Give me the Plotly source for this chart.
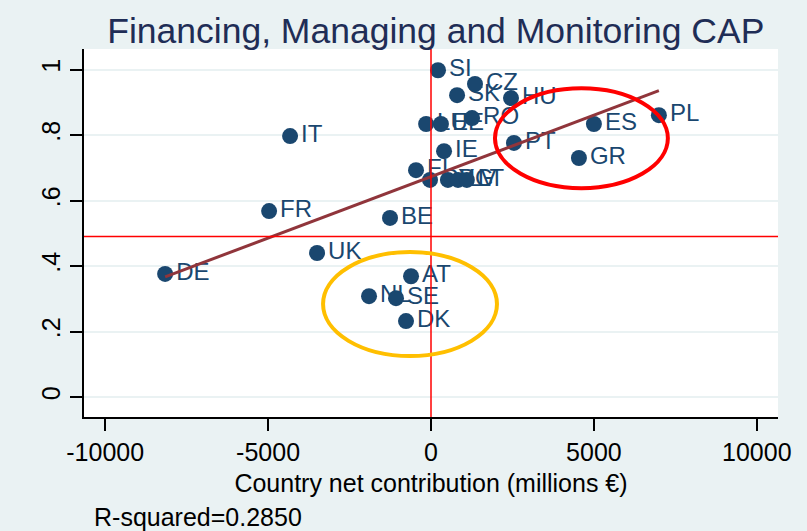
import numpy as np
import plotly.graph_objects as go

# country, net contribution (millions EUR), score
countries = ["SI", "CZ", "SK", "HU", "LU", "EE", "RO", "IE", "FI",
             "CY", "BG", "LV", "LT", "PL", "ES", "PT", "GR", "IT",
             "FR", "BE", "UK", "DE", "AT", "NL", "SE", "DK"]
net_contribution = [215, 1350, 800, 2455, -150, 305, 1260, 400, -460,
                    -30, 520, 830, 1100, 6994, 5000, 2546, 4540, -4325,
                    -4969, -1258, -3497, -8160, -613, -1902, -1074, -767]
score = [0.998, 0.956, 0.922, 0.913, 0.834, 0.834, 0.852, 0.751, 0.693,
         0.663, 0.663, 0.663, 0.663, 0.861, 0.834, 0.776, 0.730, 0.797,
         0.568, 0.547, 0.440, 0.376, 0.369, 0.308, 0.302, 0.232]

x_ticks = [-10000, -5000, 0, 5000, 10000]
x_tick_text = ["-10000", "-5000", "0", "5000", "10000"]
y_ticks = [0, 0.2, 0.4, 0.6, 0.8, 1]
y_tick_text = ["0", ".2", ".4", ".6", ".8", "1"]

ref_x = 0
ref_y = 0.49
r_squared = 0.2850

# highlight ellipses [x0, x1, y0, y1]
red_ellipse = [1963, 7270, 0.638, 0.943]
gold_ellipse = [-3313, 2025, 0.125, 0.443]

navy = "#1A476F"
maroon = "#90353B"
bg = "#EAF2F3"
font = "Liberation Sans, Arial, sans-serif"

x = np.array(net_contribution, dtype=float)
y = np.array(score)
slope, intercept = np.polyfit(x, y, 1)
fit_x = np.array([x.min(), x.max()])
fit_y = intercept + slope * fit_x

fig = go.Figure()

fig.add_trace(go.Scatter(
    x=net_contribution, y=score, mode="markers+text",
    text=countries, textposition="middle right",
    textfont=dict(family=font, size=24, color=navy),
    marker=dict(size=16, color=navy),
    cliponaxis=False, showlegend=False
))

fig.add_trace(go.Scatter(
    x=fit_x, y=fit_y, mode="lines",
    line=dict(color=maroon, width=3), showlegend=False
))

# reference lines
fig.add_shape(type="line", xref="x", yref="paper", x0=ref_x, x1=ref_x, y0=0, y1=1,
              line=dict(color="red", width=1.5), layer="above")
fig.add_shape(type="line", xref="paper", yref="y", x0=0, x1=1, y0=ref_y, y1=ref_y,
              line=dict(color="red", width=1.5), layer="above")

fig.add_shape(type="circle", xref="x", yref="y",
              x0=red_ellipse[0], x1=red_ellipse[1], y0=red_ellipse[2], y1=red_ellipse[3],
              line=dict(color="#FF0000", width=4), layer="above")
fig.add_shape(type="circle", xref="x", yref="y",
              x0=gold_ellipse[0], x1=gold_ellipse[1], y0=gold_ellipse[2], y1=gold_ellipse[3],
              line=dict(color="#FFBF00", width=4), layer="above")

fig.add_annotation(
    text=f"R-squared={r_squared:.4f}", xref="paper", yref="paper",
    x=0.0115, y=-0.272, xanchor="left", yanchor="middle", showarrow=False,
    font=dict(family=font, size=25, color="black")
)

fig.update_xaxes(
    range=[-10650, 10650], tickmode="array", tickvals=x_ticks, ticktext=x_tick_text,
    showgrid=False, zeroline=False, automargin=False,
    showline=True, linecolor="black", linewidth=1.5,
    ticks="outside", ticklen=12, tickwidth=1.5, tickcolor="black",
    tickfont=dict(family=font, size=25, color="black"),
    title=dict(text="Country net contribution (millions €)",
               font=dict(family=font, size=25, color="black"), standoff=10)
)
fig.update_yaxes(
    range=[-0.061, 1.063], tickmode="array", tickvals=y_ticks, ticktext=y_tick_text,
    tickangle=-90, automargin=False,
    showgrid=True, gridcolor=bg, gridwidth=2, zeroline=False,
    showline=True, linecolor="black", linewidth=1.5,
    ticks="outside", ticklen=12, tickwidth=1.5, tickcolor="black",
    tickfont=dict(family=font, size=25, color="black")
)

fig.update_layout(
    width=807, height=531,
    margin=dict(l=84, r=29, t=49, b=114, autoexpand=False),
    paper_bgcolor=bg, plot_bgcolor="white",
    title=dict(text="Financing, Managing and Monitoring CAP",
               x=0.54, xanchor="center", y=0.943, yanchor="middle",
               font=dict(family=font, size=35.5, color="#1F2D56")),
    showlegend=False
)

# drop the default body margin so the figure sits at the window's corner
fig.write_html("out.html", config={"displayModeBar": False},
               post_script="document.body.style.margin='0';")
